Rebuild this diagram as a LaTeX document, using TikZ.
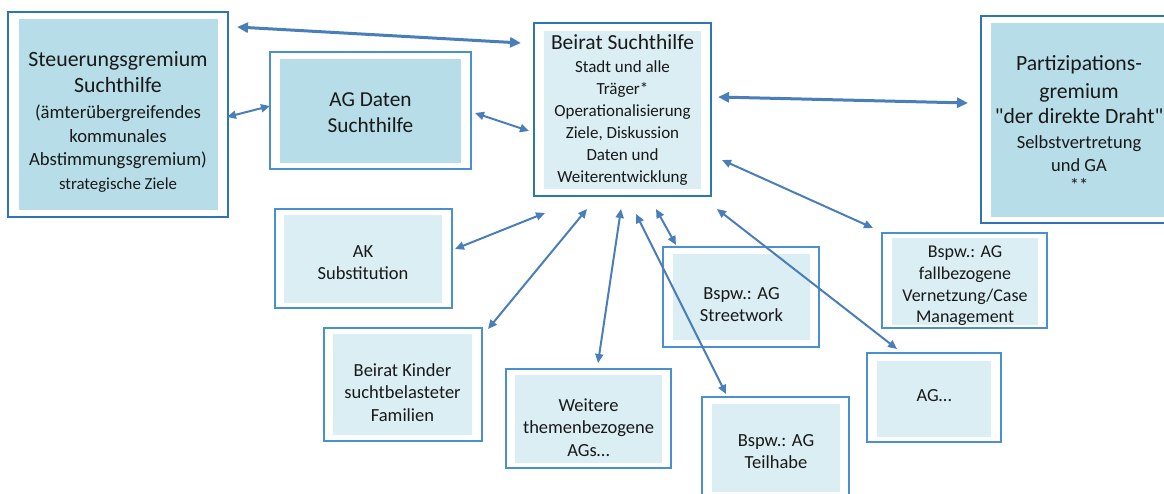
\documentclass[tikz,border=0pt]{standalone}
\usepackage{fontspec}
\setmainfont{Carlito}[Ligatures=TeXOff]
\usetikzlibrary{arrows.meta,fit}
\definecolor{arrowc}{HTML}{4A7EBB}
\definecolor{bordc}{HTML}{2E75B6}
\definecolor{bordl}{HTML}{4A90D0}
\definecolor{filld}{HTML}{B7DDE8}
\definecolor{filll}{HTML}{DAEEF3}
\tikzset{
 outerthick/.style={draw=bordc, line width=2.6pt, inner sep=0pt, fill=white},
 outerthin/.style={draw=bordl, line width=1.3pt, inner sep=0pt, fill=white},
 innerdark/.style={fill=filld, inner sep=0pt},
 innerlight/.style={fill=filll, inner sep=0pt},
 txt/.style={align=center, inner sep=0pt, text=black!90},
 arr/.style={draw=arrowc, line width=2pt, {Triangle[length=9pt,width=8pt]}-{Triangle[length=9pt,width=8pt]}},
 arrthick/.style={draw=arrowc, line width=3pt, {Triangle[length=11pt,width=10pt]}-{Triangle[length=11pt,width=10pt]}},
}
\newcommand\fsz[2]{\fontsize{#1}{#2}\selectfont}
\begin{document}
\begin{tikzpicture}[x=1pt,y=-1pt]
\useasboundingbox (0,0) rectangle (1164,494);
\clip (0,0) rectangle (1164,494);
% Steuerungsgremium
\node[outerthick, fit={(8,12) (228,217)}] (sO) {};
\node[innerdark, fit={(19,19) (218,210)}] (sI) {};
\node[txt, font=\fsz{18.7}{23.5}] (sT) at (118,121.5) {\fsz{21.8}{27}Steuerungsgremium\\[3pt]\fsz{21.8}{27}Suchthilfe\\[2pt](ämterübergreifendes\\[0.5pt]kommunales\\Abstimmungsgremium)\\\fsz{16.8}{23}strategische Ziele};
% AG Daten
\node[outerthin, fit={(270,52) (471,169)}] (dO) {};
\node[innerdark, fit={(280,59) (461,163)}] (dI) {};
\node[txt, font=\fsz{21.3}{26}] (dT) at (370.5,113) {AG Daten\\Suchthilfe};
% Beirat Suchthilfe
\node[outerthick, fit={(534,23) (711,196)}] (bO) {};
\node[innerlight, fit={(544,31) (701,189)}] (bI) {};
\node[txt, font=\fsz{17}{21.8}] (bT) at (622.5,110) {\fsz{21.5}{24}Beirat Suchthilfe\\[1pt]Stadt und alle\\[0.5pt]Träger*\\Operationalisierung\\Ziele, Diskussion\\Daten und\\Weiterentwicklung};
% Partizipationsgremium
\node[outerthick, fit={(981,16) (1172,223)}] (pO) {};
\node[innerdark, fit={(991,23) (1164,217)}] (pI) {};
\node[txt, font=\fsz{18.5}{25}] (pT) at (1079,123.5) {\fsz{21.7}{26.5}Partizipations-\\[3pt]\fsz{21.7}{26.5}gremium\\\fsz{21.7}{26.5}"der direkte Draht"\\Selbstvertretung\\[-2pt]und GA\\[-5pt]**};
% AK Substitution
\node[outerthin, fit={(275,209) (452,308)}] (kO) {};
\node[innerlight, fit={(284,215) (442,303)}] (kI) {};
\node[txt, font=\fsz{18.5}{21.5}] (kT) at (363,262.5) {AK\\Substitution};
% Beirat Kinder
\node[outerthin, fit={(324,328) (482,441)}] (cO) {};
\node[innerlight, fit={(333,334) (472,435)}] (cI) {};
\node[txt, font=\fsz{18.5}{22.5}] (cT) at (402.5,392.5) {Beirat Kinder\\suchtbelasteter\\Familien};
% Weitere
\node[outerthin, fit={(506,369) (671,468)}] (wO) {};
\node[innerlight, fit={(515,375) (662,463)}] (wI) {};
\node[txt, font=\fsz{18.5}{22.5}] (wT) at (588.5,427.5) {Weitere\\themenbezogene\\AGs…};
% Streetwork
\node[outerthin, fit={(663,247) (819,347)}] (stO) {};
\node[innerlight, fit={(673,254) (810,340)}] (stI) {};
\node[txt, font=\fsz{18.5}{22}] (stT) at (741.5,305) {Bspw.: AG\\Streetwork};
% Teilhabe
\node[outerthin, fit={(702,397) (849,502)}] (tO) {};
\node[innerlight, fit={(712,404) (840,492)}] (tI) {};
\node[txt, font=\fsz{18.5}{22}] (tT) at (776,452) {Bspw.: AG\\Teilhabe};
% Case Management
\node[outerthin, fit={(882,233) (1047,328)}] (mO) {};
\node[innerlight, fit={(892,238) (1038,325)}] (mI) {};
\node[txt, font=\fsz{18}{21.8}] (mT) at (965,286) {Bspw.: AG\\fallbezogene\\Vernetzung/Case\\Management};
% AG...
\node[outerthin, fit={(867,353) (1001,442)}] (xO) {};
\node[innerlight, fit={(877,361) (991,437)}] (xI) {};
\node[txt, font=\fsz{18.5}{22}] (xT) at (934,396) {AG…};
% arrow end points
\coordinate (a1) at (237,27);  \coordinate (a2) at (521,43);
\coordinate (b1) at (227,117); \coordinate (b2) at (270,106);
\coordinate (c1) at (475,113); \coordinate (c2) at (529,131);
\coordinate (d1) at (718,97);  \coordinate (d2) at (968,103);
\coordinate (e1) at (722,160); \coordinate (e2) at (873,228);
\coordinate (f1) at (545,213); \coordinate (f2) at (455,249);
\coordinate (g1) at (587,209); \coordinate (g2) at (488,329);
\coordinate (h1) at (621,209); \coordinate (h2) at (598,363);
\coordinate (i1) at (636,214); \coordinate (i2) at (726,394);
\coordinate (j1) at (656,209); \coordinate (j2) at (676,245);
\coordinate (k1) at (717,209); \coordinate (k2) at (897,349);
\draw[arrthick] (a1) -- (a2);
\draw[arr] (b1) -- (b2);
\draw[arr] (c1) -- (c2);
\draw[arrthick] (d1) -- (d2);
\draw[arr] (e1) -- (e2);
\draw[arr] (f1) -- (f2);
\draw[arr] (g1) -- (g2);
\draw[arr] (h1) -- (h2);
\draw[arr] (i1) -- (i2);
\draw[arr] (j1) -- (j2);
\draw[arr] (k1) -- (k2);
\end{tikzpicture}
\end{document}
